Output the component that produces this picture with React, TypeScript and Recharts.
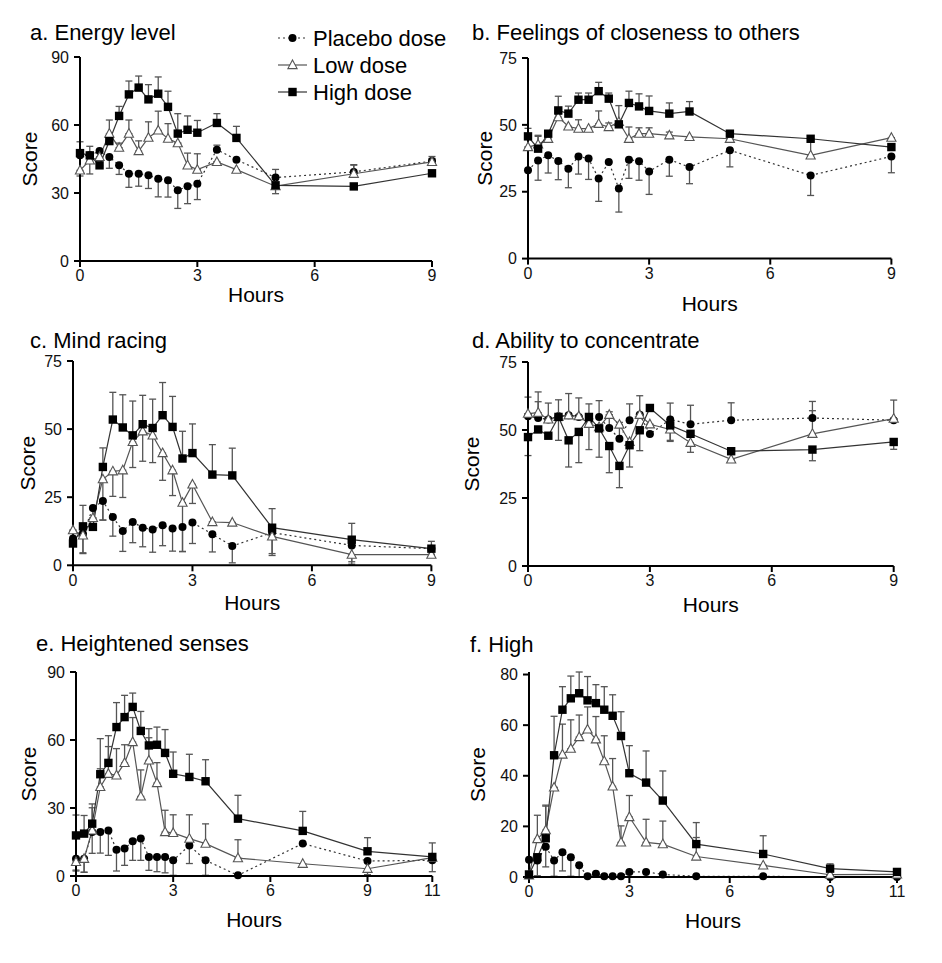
import React from 'react';
import { LineChart, Line, XAxis, YAxis, ErrorBar, Legend } from 'recharts';

// ---------- time points (hours) ----------
const T9 = [0, 0.25, 0.5, 0.75, 1, 1.25, 1.5, 1.75, 2, 2.25, 2.5, 2.75, 3, 3.5, 4, 5, 7, 9];
const T11 = [0, 0.25, 0.5, 0.75, 1, 1.25, 1.5, 1.75, 2, 2.25, 2.5, 2.75, 3, 3.5, 4, 5, 7, 9, 11];

const SERIES_NAMES = ['Placebo dose', 'Low dose', 'High dose'];

// ---------- a. Energy level ----------
// error: positive = bar drawn upward, negative = bar drawn downward
const aPlacebo = [46.6, 46.6, 48.5, 45.9, 42.2, 38.5, 38.5, 37.8, 36.3, 35.6, 31.2, 33, 34.1, 49.1, 44.7, 36.8, 39.3, 44.1];
const aPlaceboErr = [0, 0, 0, -5, -4, -6, -5.5, -5.8, -8, -7.4, -8, -7.7, -7, 2, 0, 3.6, 3, 2];
const aLow = [40, 44.4, 45.9, 56.2, 50, 56.2, 48.5, 54.4, 57.6, 54, 52, 42.2, 40.3, 43.7, 40.3, 33, 38.5, 43.7];
const aLowErr = [-2.5, -6, 0, 6, 2, 6, 4.5, 7, 8.5, 6.6, 0, 5.4, 7, 0, 0, 0, 4, 1.5];
const aHigh = [47.6, 46.6, 42.2, 52.9, 64, 73.5, 76.5, 71.3, 73.8, 68, 56.2, 57.9, 56.6, 60.9, 54.3, 33.4, 32.9, 38.7];
const aHighErr = [5, 4, 0, 0, 4.2, 5.9, 5.1, 6.5, 7.4, 6.9, 8.8, 6.1, 5.4, 4.1, 5.1, -3.7, 0, -0.5];

// ---------- b. Feelings of closeness to others ----------
const bPlacebo = [33, 36.7, 38.6, 36.5, 33.6, 38.2, 37.4, 29.9, 36.1, 26.2, 37, 36.4, 32.6, 37, 34.2, 40.5, 31.1, 38.2];
const bPlaceboErr = [0, -7.4, -6.6, -7, -7.1, -6.6, -7.8, -8.5, 0, -8.8, -7, -7.1, -8.6, -6.2, -6.2, -6.2, -7.5, -6.1];
const bLow = [41.7, 42.7, 44.8, 52.9, 49.4, 48.6, 48.6, 50.4, 49.2, 51.1, 44.8, 46.7, 46.7, 46.1, 45.5, 44.8, 38.6, 45.2];
const bLowErr = [0, 3, 2, 1, 0, 3.3, 0, 4.8, 1.5, 0, 4.4, 2.2, 2.2, 1.2, 0, 0, 6, 0];
const bHigh = [45.7, 41.1, 46.7, 55.4, 54.2, 59.4, 59.4, 62.6, 59.8, 50.2, 58.2, 56.9, 55.2, 54.2, 55, 46.7, 44.8, 41.7];
const bHighErr = [3, 5, 1, 5.3, 2.8, 2.5, 2.5, 3.3, 2.1, 7, 4.4, 4.7, 5.6, 4, 3.7, 0.8, 0, 0];

// ---------- c. Mind racing ----------
const cPlacebo = [9.8, 11.6, 21, 23.6, 17.7, 12.6, 15.9, 13.8, 13.1, 14.7, 13.5, 14.1, 15.7, 11.4, 7.1, 12, 7.3, 6.1];
const cPlaceboErr = [0, -7, -4, -7, -7, -7.5, -7.6, -7, -8.3, -7.5, -8.3, -9, -7.7, -6.5, -6.2, -7.7, -6, -2];
const cLow = [12.9, 11, 17.4, 31.6, 34.5, 34.9, 45.3, 49.2, 47.7, 41.2, 34.9, 23, 29.7, 15.9, 15.7, 10.6, 3.9, 3.9];
const cLowErr = [0, -6.7, 0, -15, -9.2, -10, -9.4, -11, -10, -10, -9.3, -18, -7, 0, 0, -7, -3.5, 0];
const cHigh = [8, 14.3, 14.1, 36.1, 53.5, 50.6, 47.7, 51.8, 50.4, 55.1, 50.8, 39.2, 41.2, 33.3, 33, 13.8, 9.4, 6.1];
const cHighErr = [0, 7.7, 0, 7, 10, 12, 12.6, 10.6, 10.6, 12, 11.2, 10, 10.7, 11, 10, 7, 6, 2.7];

// ---------- d. Ability to concentrate ----------
const dPlacebo = [55.1, 54.4, 53.9, 55.1, 55.4, 54.8, 53.6, 54.8, 50.7, 46.8, 53.6, 55.6, 48.5, 53.9, 52.1, 53.6, 54.4, 53.6];
const dPlaceboErr = [7, 6, 6, 6, 8, 7, 6, 6, 6, 6, 6, 7, 0, 6, 7, 6.4, 6.1, 7.4];
const dLow = [56, 56.4, 53.9, 54.8, 55.4, 55.1, 52.3, 51.1, 55.6, 52, 45.6, 55.6, 52.1, 50.2, 45.3, 39.2, 48.6, 54.2];
const dLowErr = [0, 7.6, 0, 0, 0, 0, 0, 0, 0, 0, 0, 0, 0, -4, -3.5, -1, 8.5, 0];
const dHigh = [47.4, 50.2, 47.9, 54.8, 46.2, 49.3, 54.8, 50.6, 44.1, 36.8, 44.4, 49.9, 58.1, 51.7, 48.6, 42.2, 42.8, 45.6];
const dHighErr = [-6.8, 0, 0, -8.6, -9.8, -11.3, -12, -10.6, -9.8, -8, -8, -7.5, 0, -5.9, 0, 0, -4.1, -2.7];

// ---------- e. Heightened senses ----------
const ePlacebo = [7.6, 7.6, 19.4, 19.4, 20.1, 11.6, 12.1, 15.3, 16.5, 8.4, 8.4, 8.4, 6.9, 13.5, 6.9, 0.3, 14.3, 6.6, 6.9];
const ePlaceboErr = [-5, -6, -9.4, -9.3, -11, -9.4, -7.4, -8.4, -9.6, -5.9, -6.5, -7, -6.6, -8, -6.6, 0, 0, -6, -5];
const eLow = [6.2, 7.6, 20.1, 39.3, 45.1, 44.4, 49.9, 59.1, 35.1, 51, 41, 19.4, 19, 16.5, 14.3, 7.9, 5.4, 3.2, 8.1];
const eLowErr = [-4, -5.9, 10, 8, 12, 11.8, 8, 10.8, 11.7, 10, 9, 9.6, 8, 10.5, 8.7, 8.1, 0, 0, 0];
const eHigh = [17.9, 18.7, 23.1, 44.9, 49.9, 65.7, 70.1, 74.6, 64, 57.6, 57.9, 54.3, 45.1, 43.7, 41.8, 25.3, 19.9, 10.9, 8.4];
const eHighErr = [9, 8, 8.7, 15.7, 12, 10.8, 9.6, 6.1, 8.6, 7.4, 7.8, 10.3, 9.6, 10, 9.5, 10.3, 8.6, 6, 6.2];

// ---------- f. High ----------
const fPlacebo = [6.8, 6.5, 12, 6.5, 9.8, 7.8, 4.6, 0.3, 1.3, 0.3, 0.3, 0.3, 2, 2, 1, 0.3, 0.3, 0, 0];
const fPlaceboErr = [-6, -6, -8, -6.2, -7.4, -7.5, -4.5, 0, 0, 0, 0, 0, 0, 0, 0, 0, 0, 0, 0];
const fLow = [0.7, 15, 18.5, 35.4, 48.4, 50.7, 55.3, 58.3, 54.4, 45.8, 35.8, 13.7, 23.7, 13.7, 13, 8.1, 4.6, 0.9, 1];
const fLowErr = [0, 9.4, 9.9, 0, 12, 11.4, 8.7, 8.9, 9, 10, 11, 6.5, 8.5, 9.1, 9.1, 7.5, 0, 0, 0];
const fHigh = [1, 7.8, 15.3, 48.1, 66.1, 70.6, 72.6, 69.8, 68.7, 66.1, 63.7, 55.7, 41, 37.3, 30.2, 13, 9.1, 3.3, 2];
const fHighErr = [0, 0, 12.7, 15.4, 9.1, 8.8, 8.4, 9.4, 7.3, 9.1, 8.3, 9.6, 10.9, 12.5, 11.7, 8.5, 7.2, 1.9, 0.6];

// ---------- tick labels ----------
const xTicks9 = [0, 3, 6, 9];
const xTicks11 = [0, 3, 6, 9, 11];
const yTicks90 = [0, 30, 60, 90];
const yTicks75 = [0, 25, 50, 75];
const yTicks80 = [0, 20, 40, 60, 80];

const FONT = '"Liberation Sans", Arial, Helvetica, sans-serif';

const toErr = (e: number) => (e >= 0 ? [0, e] : [-e, 0]);

function buildRows(t: number[], p: number[], pe: number[], l: number[], le: number[], h: number[], he: number[]) {
  return t.map((tt, i) => ({
    t: tt,
    p: p[i],
    l: l[i],
    h: h[i],
    pe: toErr(pe[i]),
    le: toErr(le[i]),
    he: toErr(he[i]),
  }));
}

function marker(kind: string, cx: number, cy: number, key?: string) {
  if (kind === 'p') return <circle key={key} cx={cx} cy={cy} r={4} fill="#000" />;
  if (kind === 'h') return <rect key={key} x={cx - 4.2} y={cy - 4.2} width={8.4} height={8.4} fill="#000" />;
  return (
    <path
      key={key}
      d={`M${cx},${cy - 5} L${cx + 4.6},${cy + 3.6} L${cx - 4.6},${cy + 3.6} Z`}
      fill="#fff"
      stroke="#555"
      strokeWidth={1.1}
    />
  );
}

const makeDot = (kind: string) => (props: any) => {
  const { cx, cy, index } = props;
  if (cx == null || cy == null) return <g key={`${kind}-${index}`} />;
  return marker(kind, cx, cy, `${kind}-${index}`);
};

const LEGEND_KIND: Record<string, string> = { 'Placebo dose': 'p', 'Low dose': 'l', 'High dose': 'h' };

function LegendContent() {
  return (
    <div style={{ fontFamily: FONT, fontSize: 22, color: '#000' }}>
      {SERIES_NAMES.map((name) => {
        const kind = LEGEND_KIND[name];
        return (
          <div key={name} style={{ display: 'flex', alignItems: 'center', height: 27 }}>
            <svg width={34} height={14} style={{ overflow: 'visible' }}>
              <line
                x1={0}
                y1={7}
                x2={29}
                y2={7}
                stroke={kind === 'l' ? '#555' : '#333'}
                strokeWidth={1.2}
                strokeDasharray={kind === 'p' ? '2 3' : undefined}
              />
              {marker(kind, 14.5, 7)}
            </svg>
            <span style={{ marginLeft: 1, lineHeight: '27px', whiteSpace: 'nowrap' }}>{name}</span>
          </div>
        );
      })}
    </div>
  );
}

type PanelProps = {
  title: string;
  titleX: number;
  titleY: number;
  plotLeft: number;
  plotTop: number;
  plotW: number;
  plotH: number;
  scoreX: number;
  hoursBase: number;
  rows: any[];
  xMax: number;
  xTicks: number[];
  yMax: number;
  yTicks: number[];
  legend?: boolean;
};

const LM = 75;
const TM = 15;
const RM = 20;
const BM = 62;

function Panel(props: PanelProps) {
  const { title, titleX, titleY, plotLeft, plotTop, plotW, plotH, scoreX, hoursBase, rows, xMax, xTicks, yMax, yTicks, legend } = props;
  const divLeft = plotLeft - LM;
  const divTop = plotTop - TM;
  const W = LM + plotW + RM;
  const H = TM + plotH + BM;
  const tickStyle = { fontSize: 16, fill: '#111', fontFamily: FONT };
  const axisLineStyle = { stroke: '#000', strokeWidth: 2 };
  return (
    <>
      <div
        style={{
          position: 'absolute',
          left: titleX,
          top: titleY,
          fontFamily: FONT,
          fontSize: 22,
          lineHeight: '22px',
          whiteSpace: 'nowrap',
          color: '#000',
        }}
      >
        {title}
      </div>
      <div style={{ position: 'absolute', left: divLeft, top: divTop }}>
        <LineChart width={W} height={H} data={rows} margin={{ top: TM, right: RM, bottom: 0, left: 0 }}>
          <XAxis
            type="number"
            dataKey="t"
            domain={[0, xMax]}
            ticks={xTicks}
            interval={0}
            height={BM}
            tick={tickStyle}
            tickLine={axisLineStyle}
            axisLine={axisLineStyle}
            tickSize={6}
            tickMargin={3}
            label={{
              value: 'Hours',
              position: 'insideBottom',
              offset: plotTop + plotH + BM - hoursBase,
              style: { fontSize: 21, fill: '#000', fontFamily: FONT },
            }}
          />
          <YAxis
            type="number"
            domain={[0, yMax]}
            ticks={yTicks}
            interval={0}
            width={LM}
            tick={tickStyle}
            tickLine={axisLineStyle}
            axisLine={axisLineStyle}
            tickSize={6}
            tickMargin={5}
            label={{
              value: 'Score',
              angle: -90,
              position: 'insideLeft',
              offset: scoreX - divLeft,
              style: { fontSize: 21, fill: '#000', fontFamily: FONT, textAnchor: 'middle' },
            }}
          />
          {/* error bars drawn first, behind all lines and markers */}
          <Line dataKey="p" stroke="none" dot={false} activeDot={false} legendType="none" isAnimationActive={false}>
            <ErrorBar dataKey="pe" width={3.5} stroke="#555" strokeWidth={1.3} />
          </Line>
          <Line dataKey="l" stroke="none" dot={false} activeDot={false} legendType="none" isAnimationActive={false}>
            <ErrorBar dataKey="le" width={3.5} stroke="#555" strokeWidth={1.3} />
          </Line>
          <Line dataKey="h" stroke="none" dot={false} activeDot={false} legendType="none" isAnimationActive={false}>
            <ErrorBar dataKey="he" width={3.5} stroke="#555" strokeWidth={1.3} />
          </Line>
          <Line
            name="Placebo dose"
            dataKey="p"
            type="linear"
            stroke="#333"
            strokeWidth={1.2}
            strokeDasharray="2 3"
            dot={makeDot('p')}
            activeDot={false}
            isAnimationActive={false}
          />
          <Line
            name="Low dose"
            dataKey="l"
            type="linear"
            stroke="#555"
            strokeWidth={1.2}
            dot={makeDot('l')}
            activeDot={false}
            isAnimationActive={false}
          />
          <Line
            name="High dose"
            dataKey="h"
            type="linear"
            stroke="#333"
            strokeWidth={1.2}
            dot={makeDot('h')}
            activeDot={false}
            isAnimationActive={false}
          />
          {legend ? (
            <Legend
              layout="vertical"
              align="center"
              verticalAlign="middle"
              wrapperStyle={{ position: 'absolute', left: 278 - divLeft, top: 24.5 - divTop, width: 200 }}
              content={() => <LegendContent />}
            />
          ) : null}
        </LineChart>
      </div>
    </>
  );
}

export default function App() {
  const rowsA = buildRows(T9, aPlacebo, aPlaceboErr, aLow, aLowErr, aHigh, aHighErr);
  const rowsB = buildRows(T9, bPlacebo, bPlaceboErr, bLow, bLowErr, bHigh, bHighErr);
  const rowsC = buildRows(T9, cPlacebo, cPlaceboErr, cLow, cLowErr, cHigh, cHighErr);
  const rowsD = buildRows(T9, dPlacebo, dPlaceboErr, dLow, dLowErr, dHigh, dHighErr);
  const rowsE = buildRows(T11, ePlacebo, ePlaceboErr, eLow, eLowErr, eHigh, eHighErr);
  const rowsF = buildRows(T11, fPlacebo, fPlaceboErr, fLow, fLowErr, fHigh, fHighErr);
  return (
    <div style={{ position: 'absolute', left: 0, top: 0, width: 942, height: 963, background: '#fff', fontFamily: FONT }}>
      <Panel title="a. Energy level" titleX={30} titleY={22} plotLeft={80} plotTop={56.7} plotW={352} plotH={204}
        scoreX={30} hoursBase={302} rows={rowsA} xMax={9} xTicks={xTicks9} yMax={90} yTicks={yTicks90} legend />
      <Panel title="b. Feelings of closeness to others" titleX={472} titleY={22} plotLeft={528.3} plotTop={57.7} plotW={363.4} plotH={200.6}
        scoreX={485} hoursBase={311} rows={rowsB} xMax={9} xTicks={xTicks9} yMax={75} yTicks={yTicks75} />
      <Panel title="c. Mind racing" titleX={30} titleY={330} plotLeft={73.3} plotTop={360.7} plotW={358.4} plotH={204.3}
        scoreX={28} hoursBase={610} rows={rowsC} xMax={9} xTicks={xTicks9} yMax={75} yTicks={yTicks75} />
      <Panel title="d. Ability to concentrate" titleX={472} titleY={330} plotLeft={528.3} plotTop={361.7} plotW={365.7} plotH={204}
        scoreX={472} hoursBase={612} rows={rowsD} xMax={9} xTicks={xTicks9} yMax={75} yTicks={yTicks75} />
      <Panel title="e. Heightened senses" titleX={36} titleY={633} plotLeft={76} plotTop={671.7} plotW={356.3} plotH={204}
        scoreX={29} hoursBase={927} rows={rowsE} xMax={11} xTicks={xTicks11} yMax={90} yTicks={yTicks90} />
      <Panel title="f. High" titleX={470} titleY={634} plotLeft={529.3} plotTop={671.7} plotW={368} plotH={205}
        scoreX={478} hoursBase={928} rows={rowsF} xMax={11} xTicks={xTicks11} yMax={80} yTicks={yTicks80} />
    </div>
  );
}
